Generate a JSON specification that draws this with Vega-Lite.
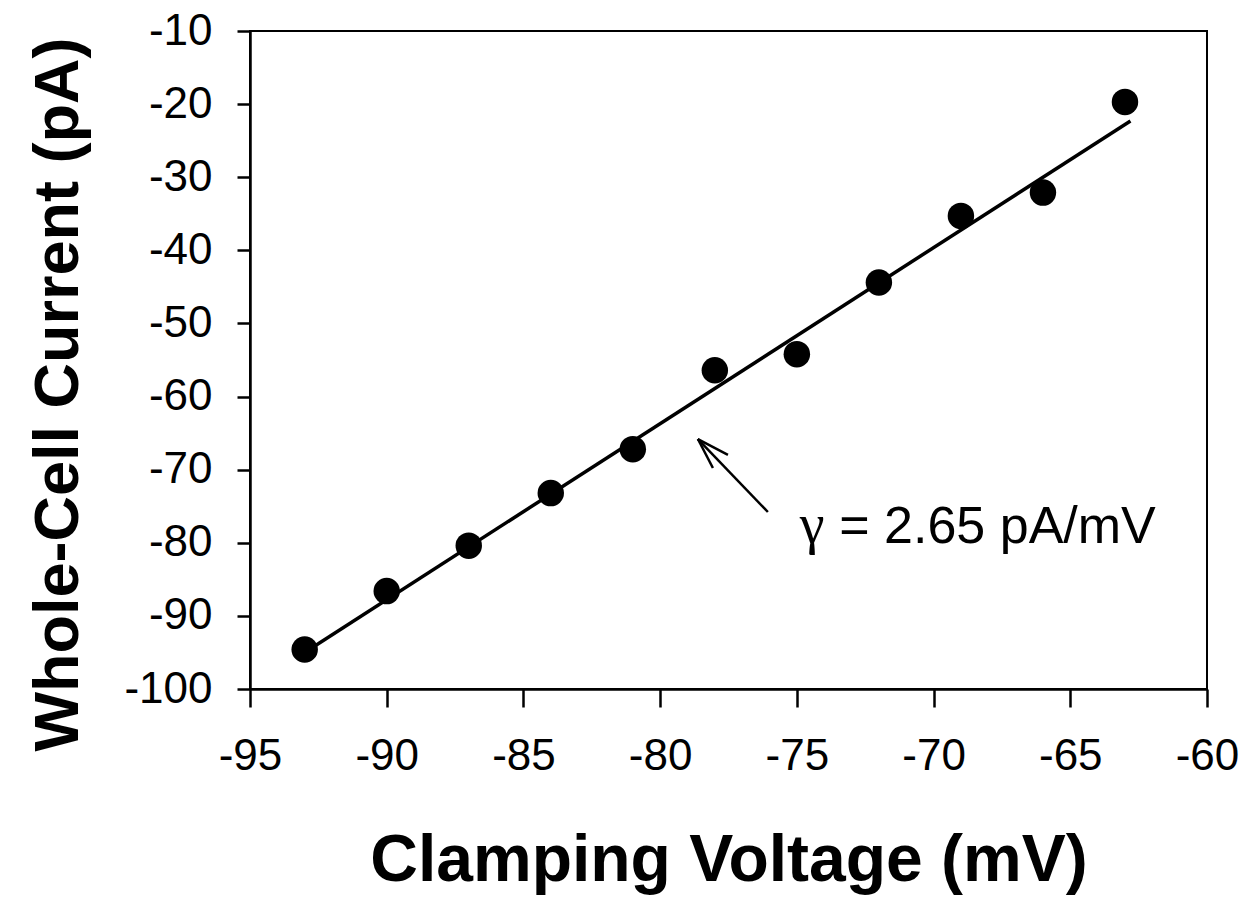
{
  "$schema": "https://vega.github.io/schema/vega-lite/v6.json",
  "width": 957,
  "height": 658,
  "autosize": {"type": "none"},
  "padding": {"left": 250, "top": 31, "right": 52, "bottom": 216},
  "background": "white",
  "config": {
    "view": {"stroke": "black", "strokeWidth": 2},
    "axis": {
      "grid": false,
      "domainColor": "black",
      "domainWidth": 2.5,
      "tickColor": "black",
      "tickWidth": 2.5,
      "labelColor": "black",
      "labelFont": "Liberation Sans",
      "labelFontSize": 44,
      "titleColor": "black",
      "labelOverlap": false,
      "labelFlush": false,
      "labelExpr": "replace(datum.label, '−', '-')"
    }
  },
  "datasets": {
    "points": [
      {"voltage": -93, "current": -94.6},
      {"voltage": -90, "current": -86.6},
      {"voltage": -87, "current": -80.4},
      {"voltage": -84, "current": -73.2},
      {"voltage": -81, "current": -67.2},
      {"voltage": -78, "current": -56.4},
      {"voltage": -75, "current": -54.2},
      {"voltage": -72, "current": -44.4},
      {"voltage": -69, "current": -35.3},
      {"voltage": -66, "current": -32.1},
      {"voltage": -63, "current": -19.7}
    ],
    "fit": [
      {"voltage": -93, "current": -95.0},
      {"voltage": -62.8, "current": -22.3}
    ],
    "arrow": [
      {"x1": -76.06, "y1": -75.79, "x2": -78.62, "y2": -65.81},
      {"x1": -78.62, "y1": -65.81, "x2": -77.52, "y2": -67.99},
      {"x1": -78.62, "y1": -65.81, "x2": -78.07, "y2": -69.77}
    ],
    "gamma": [{"x": -74.89, "y": -80.03, "label": "γ"}],
    "slope": [{"x": -73.45, "y": -80.03, "label": "= 2.65 pA/mV"}]
  },
  "layer": [
    {
      "data": {"name": "fit"},
      "mark": {"type": "line", "color": "black", "strokeWidth": 3.5},
      "encoding": {
        "x": {
          "field": "voltage",
          "type": "quantitative",
          "scale": {"domain": [-95, -60], "nice": false, "zero": false},
          "axis": {
            "values": [-95, -90, -85, -80, -75, -70, -65, -60],
            "tickSize": 18,
            "labelPadding": 27,
            "title": "Clamping Voltage (mV)",
            "titleFont": "Liberation Sans",
            "titleFontSize": 66,
            "titleFontWeight": "bold",
            "titleBaseline": "alphabetic",
            "titleY": 191
          }
        },
        "y": {
          "field": "current",
          "type": "quantitative",
          "scale": {"domain": [-100, -10], "nice": false, "zero": false},
          "axis": {
            "values": [-100, -90, -80, -70, -60, -50, -40, -30, -20, -10],
            "tickSize": 13,
            "labelPadding": 25,
            "title": "Whole-Cell Current (pA)",
            "titleFont": "Liberation Sans",
            "titleFontSize": 63,
            "titleFontWeight": "bold",
            "titleBaseline": "alphabetic",
            "titleAlign": "center",
            "titleAngle": -90,
            "titleX": -173,
            "titleY": 363
          }
        }
      }
    },
    {
      "data": {"name": "points"},
      "mark": {"type": "point", "shape": "circle", "filled": true, "color": "black", "opacity": 1, "size": 700},
      "encoding": {
        "x": {"field": "voltage", "type": "quantitative"},
        "y": {"field": "current", "type": "quantitative"}
      }
    },
    {
      "data": {"name": "arrow"},
      "mark": {"type": "rule", "color": "black", "strokeWidth": 2.5},
      "encoding": {
        "x": {"field": "x1", "type": "quantitative"},
        "y": {"field": "y1", "type": "quantitative"},
        "x2": {"field": "x2"},
        "y2": {"field": "y2"}
      }
    },
    {
      "data": {"name": "gamma"},
      "mark": {"type": "text", "font": "Liberation Serif", "fontSize": 56, "align": "left", "baseline": "alphabetic", "color": "black"},
      "encoding": {
        "x": {"field": "x", "type": "quantitative"},
        "y": {"field": "y", "type": "quantitative"},
        "text": {"field": "label"}
      }
    },
    {
      "data": {"name": "slope"},
      "mark": {"type": "text", "font": "Liberation Sans", "fontSize": 52, "align": "left", "baseline": "alphabetic", "color": "black"},
      "encoding": {
        "x": {"field": "x", "type": "quantitative"},
        "y": {"field": "y", "type": "quantitative"},
        "text": {"field": "label"}
      }
    }
  ]
}
